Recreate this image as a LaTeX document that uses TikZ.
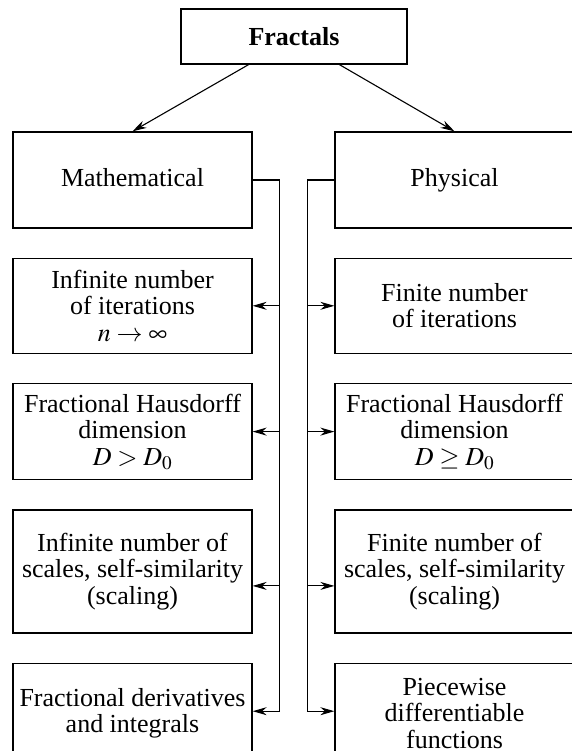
\documentclass[tikz,border=0pt]{standalone}
\usepackage{mathptmx}
\usepackage[no-math]{fontspec}
\setmainfont{Liberation Serif}
\usepackage{tikz}
\usetikzlibrary{arrows.meta, positioning, calc}
\tikzset{
	blk/.style ={rectangle, draw=black, line width=1.3pt, minimum width=239pt, align=center, inner sep=2pt},
	sig/.style ={-{Stealth[length=14pt, width=8pt]}, line width=1.1pt},
}

\begin{document}
\begin{tikzpicture}[x=1pt, y=-1pt, font=\fontsize{26}{26.5}\selectfont, node distance=29pt]
			\useasboundingbox (0,0) rectangle (571,751);
			\node[blk, minimum width=226pt, minimum height=55pt, font=\fontsize{26}{26.5}\selectfont\bfseries] (frac) at (294,36.5) {Fractals};
			% left column
			\node[blk, minimum height=96pt] (math) at (132.5,180) {Mathematical\vphantom{y}};
			\node[blk, below=of math, minimum height=95pt] (itinf) {Infinite number\\ of iterations\\ $n \to \infty$};
			\node[blk, below=of itinf, minimum height=96pt] (hdgt) {Fractional Hausdorff\\ dimension\\ $D > D_0$};
			\node[blk, below=of hdgt, minimum height=123pt] (scinf) {Infinite number of\\ scales, self-similarity\\ (scaling)};
			\node[blk, below=of scinf, minimum height=100pt] (fder) {Fractional derivatives\\ and integrals};
			% right column
			\node[blk, minimum height=96pt] (phys) at (454.5,180) {Physical};
			\node[blk, below=of phys, minimum height=95pt] (itfin) {Finite number\\ of iterations};
			\node[blk, below=of itfin, minimum height=96pt] (hdge) {Fractional Hausdorff\\ dimension\\ $D \geq D_0$};
			\node[blk, below=of hdge, minimum height=123pt] (scfin) {Finite number of\\ scales, self-similarity\\ (scaling)};
			\node[blk, below=of scfin, minimum height=100pt] (pwd) {Piecewise\\ differentiable\\ functions};
			\draw[sig] ($(frac.south west)!0.3!(frac.south east)$) -- (math.north);
			\draw[sig] ($(frac.south west)!0.7!(frac.south east)$) -- (phys.north);
			\coordinate (lb) at ($(math.east)+(27,0)$);
			\coordinate (rb) at ($(phys.west)+(-27,0)$);
			\draw[sig] (math.east) -- (lb) |- ($(fder.east)+(0,-2)$);
			\draw[sig] (phys.west) -- (rb) |- ($(pwd.west)+(0,-2)$);
			\draw[sig] (lb |- itinf.east) -- (itinf.east);
			\draw[sig] (lb |- hdgt.east) -- (hdgt.east);
			\draw[sig] ($(lb |- scinf.east)+(0,14.5)$) -- ($(scinf.east)+(0,14.5)$);
			\draw[sig] (rb |- itfin.west) -- (itfin.west);
			\draw[sig] (rb |- hdge.west) -- (hdge.west);
			\draw[sig] ($(rb |- scfin.west)+(0,14.5)$) -- ($(scfin.west)+(0,14.5)$);
		\end{tikzpicture}
\end{document}
